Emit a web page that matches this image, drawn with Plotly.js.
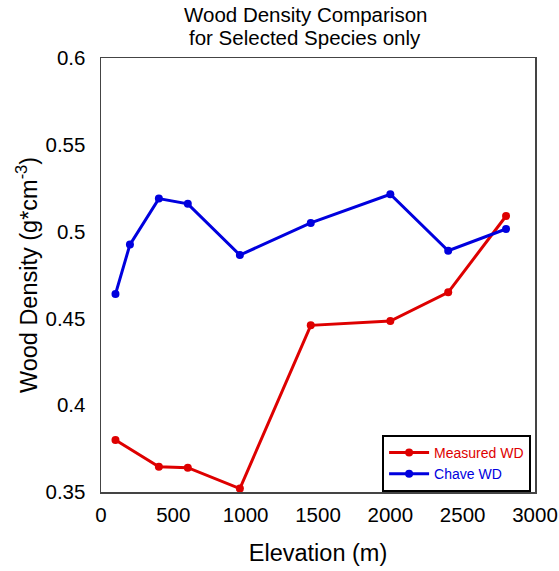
<!DOCTYPE html>
<html>
<head>
<meta charset="utf-8">
<script src="https://cdn.plot.ly/plotly-3.0.1.min.js"></script>
<style>html,body{margin:0;padding:0;background:#fff;}#chart{width:559px;height:571px;}</style>
</head>
<body>
<div id="chart"></div>
<script>
var measuredElev = [100, 400, 600, 960, 1450, 2000, 2400, 2800];
var measuredWD   = [0.380, 0.3645, 0.364, 0.352, 0.446, 0.4485, 0.465, 0.509];
var chaveElev    = [100, 200, 400, 600, 960, 1450, 2000, 2400, 2800];
var chaveWD      = [0.464, 0.4925, 0.519, 0.516, 0.4865, 0.505, 0.5215, 0.489, 0.5015];
var xTicks = [0, 500, 1000, 1500, 2000, 2500, 3000];
var yTicks = [0.35, 0.4, 0.45, 0.5, 0.55, 0.6];
var titleLines = ['Wood Density Comparison', 'for Selected Species only'];

var red = 'rgb(222,0,0)';
var blue = 'rgb(0,0,222)';

var traces = [
  {x: measuredElev, y: measuredWD, mode: 'lines+markers', name: '<span style="color:' + red + '">Measured WD</span>',
   line: {color: red, width: 3}, marker: {color: red, size: 8}},
  {x: chaveElev, y: chaveWD, mode: 'lines+markers', name: '<span style="color:' + blue + '">Chave WD</span>',
   line: {color: blue, width: 3}, marker: {color: blue, size: 8}}
];

var layout = {
  width: 559, height: 571,
  margin: {l: 101, r: 24, t: 58, b: 79},
  paper_bgcolor: '#fff', plot_bgcolor: '#fff',
  font: {family: 'Liberation Sans, Arial, sans-serif', color: '#000'},
  xaxis: {range: [0, 3000], tickvals: xTicks, ticktext: xTicks.map(String), showgrid: false, zeroline: false,
          showline: true, mirror: true, linecolor: '#444', linewidth: 1.5, ticks: '', ticklabelstandoff: 4,
          tickfont: {size: 20.5}, title: {text: 'Elevation (m)', font: {size: 23.5}, standoff: 19}},
  yaxis: {range: [0.35, 0.6], tickvals: yTicks, ticktext: yTicks.map(String), showgrid: false, zeroline: false,
          showline: true, mirror: true, linecolor: '#444', linewidth: 1.5, ticks: '', ticklabelstandoff: 10,
          tickfont: {size: 20.5}, title: {text: 'Wood Density (g*cm<sup>-3</sup>)', font: {size: 23.5}, standoff: 1}},
  annotations: [
    {text: titleLines[0], xref: 'paper', yref: 'paper', x: (305 - 101) / 434, y: 1, xanchor: 'center', yanchor: 'middle',
     yshift: 44, showarrow: false, font: {size: 20.5, color: '#000'}},
    {text: titleLines[1], xref: 'paper', yref: 'paper', x: (305 - 101) / 434, y: 1, xanchor: 'center', yanchor: 'middle',
     yshift: 21, showarrow: false, font: {size: 20.5, color: '#000'}}
  ],
  showlegend: true,
  legend: {x: 0.991, y: 0.0, xanchor: 'right', yanchor: 'bottom', bgcolor: '#fff',
           bordercolor: '#000', borderwidth: 2, font: {size: 14}, tracegroupgap: 0, itemwidth: 40}
};

Plotly.newPlot('chart', traces, layout, {displayModeBar: false, staticPlot: true});
</script>
</body>
</html>
